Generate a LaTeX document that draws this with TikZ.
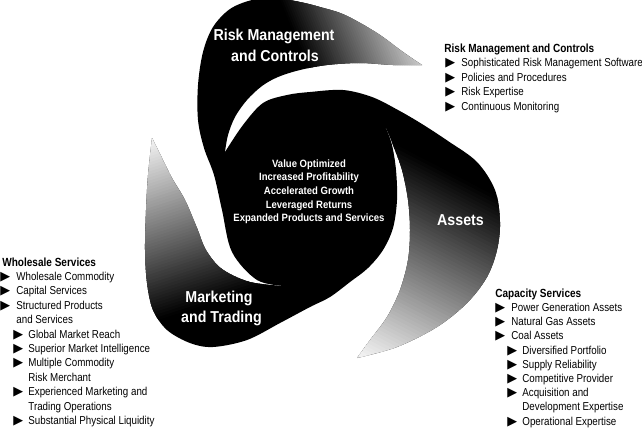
\documentclass[tikz,border=0pt]{standalone}
\usepackage{fontspec}
\setmainfont{Liberation Sans}[FakeStretch=0.85]
\newfontfamily\labfont{Liberation Sans}[FakeStretch=0.9]
\newfontfamily\symf{DejaVu Sans}
\newcommand\tri{{\symf\fontsize{6.4pt}{6.4pt}\selectfont ▶}}
\newcommand\bone{\makebox[8pt][l]{\tri}}
\newcommand\btwo{\makebox[7.5pt][l]{\tri}}
\newcommand\armgrad[4]{%
  \begin{scope}[shift={(#1,#2)}, rotate=#3]
    \foreach \i in {0,...,59}{
      \pgfmathsetmacro\pc{100-95*(\i+0.5)/60}
      \fill[black!\pc] ({#4*\i/60},-400) rectangle ({#4*(\i+1)/60+1},400);
    }
    \fill[black!5] (#4,-400) rectangle (#4+500,400);
  \end{scope}}
\begin{document}
\begin{tikzpicture}[x=0.5pt,y=-0.5pt,
  lst/.style={inner sep=0pt, anchor=base west, font=\fontsize{5.75pt}{7pt}\selectfont},
  hd/.style={lst, font=\fontsize{5.9pt}{7pt}\selectfont\bfseries},
  lab/.style={inner sep=0pt, anchor=base, text=white, font=\labfont\bfseries\fontsize{7.9pt}{9pt}\selectfont},
  ctr/.style={inner sep=0pt, anchor=base, text=white, font=\labfont\bfseries\fontsize{5.3pt}{6pt}\selectfont},
  sm/.style={smooth, tension=0.55}]
\useasboundingbox (0,0) rectangle (642,429);
\fill[white] (0,0) rectangle (642,429);

% ---- black commas (arms + centre) ----
\fill[black] plot[sm] coordinates {(285,286) (257,280) (232,252) (222,210) (214,175) (204,148) (198,120) (198,85) (203,52) (213,27) (230,9) (252,0) (275,-2) (300,2) (320,7) (345,15) (377,33) (403,52) (422,65)}
  -- plot[sm] coordinates {(422,65) (393,65) (360,63) (327,65) (300,70) (278,77) (262,86) (247,100) (235,117) (228,135) (225,152)}
  -- (305,200) -- cycle;
\fill[black] plot[sm] coordinates {(225,152) (243,125) (263,103) (287,95) (310,92) (343,90) (372,97) (398,110) (422,124) (448,141) (477,162) (495,190) (500,222) (497,250) (487,277) (467,303) (437,327) (397,347) (357,358)}
  -- plot[sm] coordinates {(357,358) (370,340) (387,317) (400,290) (408,260) (410,230) (408,200) (402,170) (393,145) (386,128)}
  -- (305,200) -- cycle;
\fill[black] plot[sm] coordinates {(386,128) (392,145) (396,170) (397,200) (393,228) (383,250) (368,268) (350,282) (330,297) (310,307) (280,323) (247,340) (213,347) (190,343) (167,330) (153,310) (147,283) (145,250) (146,210) (148,175) (152,138)}
  -- plot[sm] coordinates {(152,138) (162,158) (172,178) (185,200) (197,228) (206,250) (222,269) (250,282) (285,286)}
  -- (305,200) -- cycle;
% centre core, hides the seams between the three commas
\fill[black] (225,152) -- (386,128) -- (285,286) -- cycle;

% ---- gradients on the arms ----
\begin{scope}
  \clip plot[sm] coordinates {(198,120) (198,85) (203,52) (213,27) (230,9) (252,0) (275,-2) (300,2) (320,7) (345,15) (377,33) (403,52) (422,65)}
    -- plot[sm] coordinates {(422,65) (393,65) (360,63) (327,65) (300,70) (278,77) (262,86) (247,100) (235,117) (228,135) (225,152)} -- cycle;
  \armgrad{305}{62}{21.8}{130}
\end{scope}
\begin{scope}
  \clip plot[sm] coordinates {(398,110) (422,124) (448,141) (477,162) (495,190) (500,222) (497,250) (487,277) (467,303) (437,327) (397,347) (357,358)}
    -- plot[sm] coordinates {(357,358) (370,340) (387,317) (400,290) (408,260) (410,230) (408,200) (402,170) (393,145) (386,128)} -- cycle;
  \armgrad{455}{175}{-117.3}{203}
\end{scope}
\begin{scope}
  \clip plot[sm] coordinates {(330,297) (310,307) (280,323) (247,340) (213,347) (190,343) (167,330) (153,310) (147,283) (145,250) (146,210) (148,175) (152,138)}
    -- plot[sm] coordinates {(152,138) (162,158) (172,178) (185,200) (197,228) (206,250) (222,269) (250,282) (285,286)} -- cycle;
  \armgrad{205}{305}{107.8}{173}
\end{scope}

% ---- labels on the arms ----
\node[lab] (lrm1) at (274,40.7) {Risk Management};
\node[lab] (lrm2) at (275,61) {and Controls};
\node[lab] (las) at (460.5,225) {Assets};
\node[lab] (lmt1) at (219,302.3) {Marketing};
\node[lab] (lmt2) at (221.5,322.7) {and Trading};

% ---- centre text ----
\node[ctr] (c1) at (309,167.3) {Value Optimized};
\node[ctr] (c2) at (309,180.9) {Increased Profitability};
\node[ctr] (c3) at (309,194.5) {Accelerated Growth};
\node[ctr] (c4) at (309,208.1) {Leveraged Returns};
\node[ctr] (c5) at (309,221.7) {Expanded Products and Services};

% ---- top-right list ----
\node[hd] (rmh) at (444,52.5) {Risk Management and Controls};
\node[lst] (rm1) at (445,66.9) {\bone Sophisticated Risk Management Software};
\node[lst] (rm2) at (445,81.3) {\bone Policies and Procedures};
\node[lst] (rm3) at (445,95.7) {\bone Risk Expertise};
\node[lst] (rm4) at (445,110.1) {\bone Continuous Monitoring};

% ---- left list ----
\node[hd] (wsh) at (2,266) {Wholesale Services};
\node[lst] (ws1) at (0,280.4) {\bone Wholesale Commodity};
\node[lst] (ws2) at (0,294.8) {\bone Capital Services};
\node[lst] (ws3) at (0,309.2) {\bone Structured Products};
\node[lst] (ws4) at (16,323.6) {and Services};
\node[lst] (ws5) at (13,338) {\btwo Global Market Reach};
\node[lst] (ws6) at (13,352.4) {\btwo Superior Market Intelligence};
\node[lst] (ws7) at (13,366.8) {\btwo Multiple Commodity};
\node[lst] (ws8) at (28,381.2) {Risk Merchant};
\node[lst] (ws9) at (13,395.6) {\btwo Experienced Marketing and};
\node[lst] (ws10) at (28,410) {Trading Operations};
\node[lst] (ws11) at (13,424.4) {\btwo Substantial Physical Liquidity};

% ---- bottom-right list ----
\node[hd] (csh) at (495,297.3) {Capacity Services};
\node[lst] (cs1) at (495,311.5) {\bone Power Generation Assets};
\node[lst] (cs2) at (495,325.7) {\bone Natural Gas Assets};
\node[lst] (cs3) at (495,339.9) {\bone Coal Assets};
\node[lst] (cs4) at (507,354.1) {\btwo Diversified Portfolio};
\node[lst] (cs5) at (507,368.3) {\btwo Supply Reliability};
\node[lst] (cs6) at (507,382.5) {\btwo Competitive Provider};
\node[lst] (cs7) at (507,396.7) {\btwo Acquisition and};
\node[lst] (cs8) at (522,410.9) {Development Expertise};
\node[lst] (cs9) at (507,425.1) {\btwo Operational Expertise};
\end{tikzpicture}
\end{document}
